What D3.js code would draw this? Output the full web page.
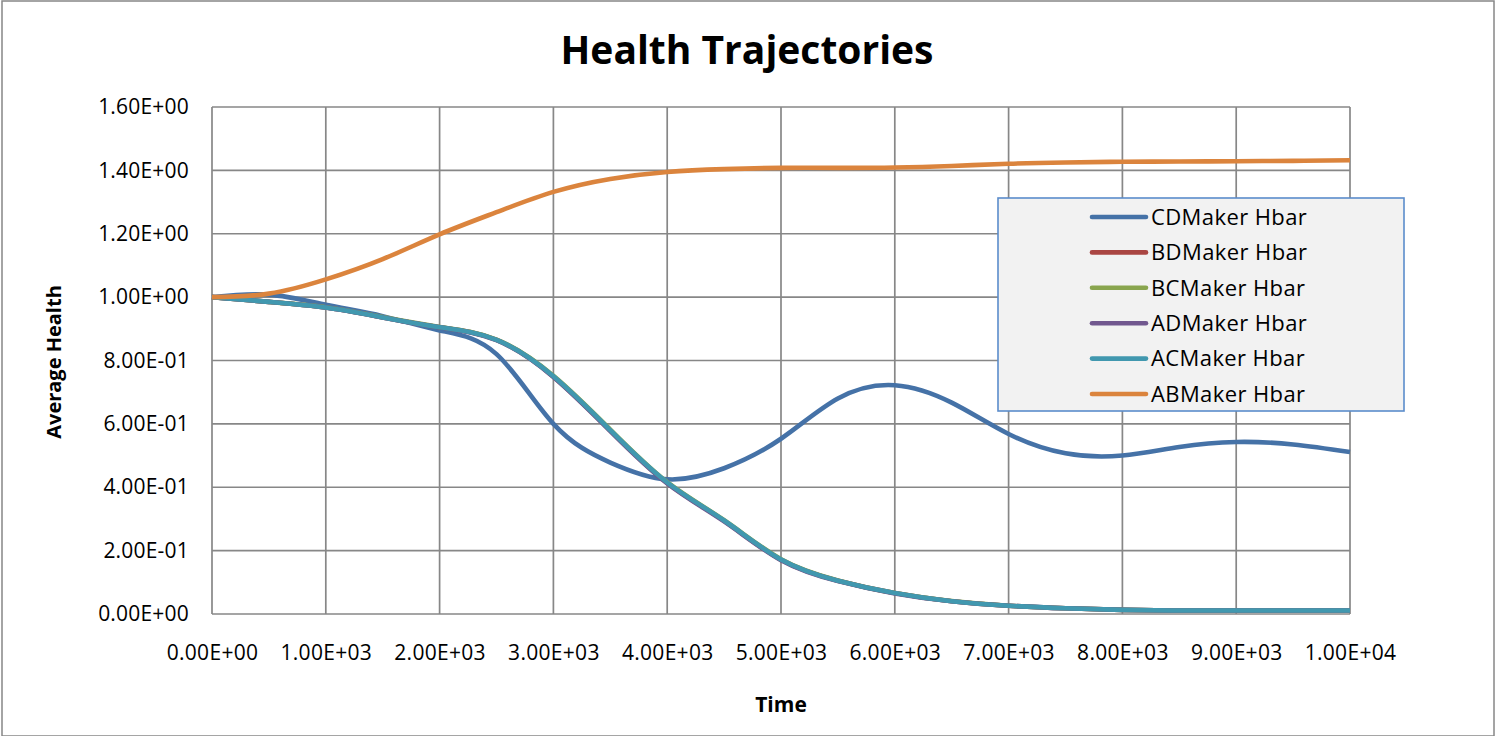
<!DOCTYPE html>
<html>
<head>
<meta charset="utf-8">
<script src="https://cdn.jsdelivr.net/npm/d3@7"></script>
<style>
  html, body { margin: 0; padding: 0; background: #ffffff; }
  svg { display: block; font-family: "Open Sans", "Liberation Sans", sans-serif; }
</style>
</head>
<body>
<svg id="chart" width="1500" height="736"></svg>
<script>
// Simulation time steps
const times = [0, 500, 1000, 1500, 2000, 2500, 3000, 3500, 4000, 4500, 5000,
               5500, 6000, 6500, 7000, 7500, 8000, 8500, 9000, 9500, 10000];

// Average health per maker pairing
const cdMaker = [1.000, 1.008, 0.976, 0.940, 0.895, 0.820, 0.600, 0.478, 0.425, 0.460, 0.553,
                 0.680, 0.722, 0.667, 0.568, 0.507, 0.500, 0.527, 0.543, 0.535, 0.511];
const bdMaker = [1.000, 0.985, 0.967, 0.936, 0.905, 0.865, 0.749, 0.579, 0.414, 0.294, 0.171,
                 0.105, 0.066, 0.040, 0.026, 0.018, 0.013, 0.011, 0.011, 0.011, 0.011];
const bcMaker = [1.000, 0.985, 0.968, 0.937, 0.906, 0.866, 0.752, 0.582, 0.416, 0.296, 0.173,
                 0.106, 0.066, 0.041, 0.026, 0.018, 0.013, 0.011, 0.011, 0.011, 0.011];
const adMaker = [1.000, 0.985, 0.967, 0.936, 0.905, 0.864, 0.748, 0.577, 0.412, 0.292, 0.170,
                 0.104, 0.065, 0.040, 0.026, 0.018, 0.013, 0.011, 0.011, 0.011, 0.011];
const acMaker = [1.000, 0.985, 0.967, 0.936, 0.905, 0.865, 0.750, 0.580, 0.415, 0.295, 0.172,
                 0.105, 0.066, 0.040, 0.026, 0.018, 0.013, 0.011, 0.011, 0.011, 0.011];
const abMaker = [1.000, 1.011, 1.056, 1.120, 1.198, 1.268, 1.332, 1.373, 1.395, 1.404, 1.408,
                 1.408, 1.409, 1.414, 1.421, 1.425, 1.427, 1.428, 1.429, 1.430, 1.432];

const seriesNames = ["CDMaker Hbar", "BDMaker Hbar", "BCMaker Hbar", "ADMaker Hbar", "ACMaker Hbar", "ABMaker Hbar"];
const seriesColors = ["#4572A7", "#AA4643", "#89A54E", "#71588F", "#4198AF", "#DB843D"];
const seriesValues = [cdMaker, bdMaker, bcMaker, adMaker, acMaker, abMaker];

const xTicks = [0, 1000, 2000, 3000, 4000, 5000, 6000, 7000, 8000, 9000, 10000];
const yTicks = [0, 0.2, 0.4, 0.6, 0.8, 1.0, 1.2, 1.4, 1.6];

const chartTitle = "Health Trajectories";
const xTitle = "Time";
const yTitle = "Average Health";

// Spreadsheet-style scientific notation, e.g. 1.60E+00
function sci(v) {
  const parts = v.toExponential(2).split("e");
  const n = +parts[1];
  return parts[0] + "E" + (n < 0 ? "-" : "+") + String(Math.abs(n)).padStart(2, "0");
}

const svg = d3.select("#chart");
const W = 1500, H = 736;
const plot = { left: 212, right: 1350, top: 107, bottom: 614 };
const gridColor = "#878787";

// outer chart frame
svg.append("rect")
  .attr("x", 2).attr("y", 1).attr("width", W - 8).attr("height", H - 1)
  .attr("fill", "#ffffff").attr("stroke", gridColor).attr("stroke-width", 1.5);

const x = d3.scaleLinear().domain([0, 10000]).range([plot.left, plot.right]);
const y = d3.scaleLinear().domain([0, 1.6]).range([plot.bottom, plot.top]);

// grid lines
const grid = svg.append("g");
grid.selectAll("line.h").data(yTicks).join("line")
  .attr("x1", plot.left).attr("x2", plot.right)
  .attr("y1", d => y(d)).attr("y2", d => y(d))
  .attr("stroke", gridColor).attr("stroke-width", 1.7);
grid.selectAll("line.v").data(xTicks).join("line")
  .attr("x1", d => x(d)).attr("x2", d => x(d))
  .attr("y1", plot.top).attr("y2", plot.bottom)
  .attr("stroke", gridColor).attr("stroke-width", 1.7);

// axes with labels only (the grid provides the axis lines)
const yAxis = d3.axisLeft(y).tickValues(yTicks).tickFormat(sci).tickSize(0).tickPadding(23);
const gy = svg.append("g").attr("transform", `translate(${plot.left},0)`).call(yAxis);
gy.select(".domain").remove();
gy.selectAll("text").attr("font-size", 21).attr("letter-spacing", 0.2)
  .attr("fill", "#000").attr("font-family", "Open Sans");

const xAxis = d3.axisBottom(x).tickValues(xTicks).tickFormat(sci).tickSize(0).tickPadding(31);
const gx = svg.append("g").attr("transform", `translate(0,${plot.bottom})`).call(xAxis);
gx.select(".domain").remove();
gx.selectAll("text").attr("font-size", 21).attr("letter-spacing", 0.3)
  .attr("fill", "#000").attr("font-family", "Open Sans");

// series lines, smoothed
const line = d3.line()
  .x((d, i) => x(times[i]))
  .y(d => y(d))
  .curve(d3.curveNatural);

svg.append("g").selectAll("path").data(seriesValues).join("path")
  .attr("d", d => line(d))
  .attr("fill", "none")
  .attr("stroke", (d, i) => seriesColors[i])
  .attr("stroke-width", 4.6)
  .attr("stroke-linejoin", "round");

// titles
svg.append("text").attr("x", 747).attr("y", 64)
  .attr("text-anchor", "middle").attr("font-weight", "bold").attr("font-size", 39)
  .text(chartTitle);
svg.append("text").attr("x", 781).attr("y", 712)
  .attr("text-anchor", "middle").attr("font-weight", "bold").attr("font-size", 21)
  .text(xTitle);
svg.append("text")
  .attr("transform", "translate(61,362) rotate(-90)")
  .attr("text-anchor", "middle").attr("font-weight", "bold").attr("font-size", 20)
  .text(yTitle);

// legend
const legend = svg.append("g");
legend.append("rect")
  .attr("x", 998).attr("y", 198).attr("width", 406).attr("height", 213)
  .attr("fill", "#f2f2f2").attr("stroke", "#5B8CCB").attr("stroke-width", 1.6);
const rows = legend.selectAll("g.row").data(seriesNames).join("g")
  .attr("transform", (d, i) => `translate(0,${217 + i * 35.4})`);
rows.append("line")
  .attr("x1", 1092).attr("x2", 1146).attr("y1", 0).attr("y2", 0)
  .attr("stroke", (d, i) => seriesColors[i]).attr("stroke-width", 4.6).attr("stroke-linecap", "round");
rows.append("text")
  .attr("x", 1151).attr("y", 0).attr("dy", "0.35em")
  .attr("font-size", 22).attr("letter-spacing", 0.4).attr("fill", "#000")
  .text(d => d);
</script>
</body>
</html>
